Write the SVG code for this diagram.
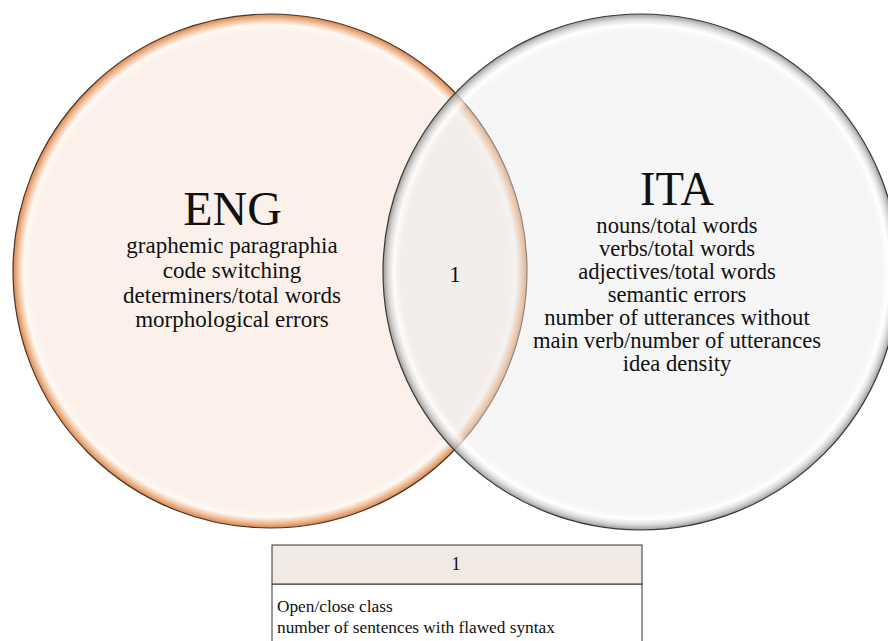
<svg xmlns="http://www.w3.org/2000/svg" width="888" height="641" viewBox="0 0 888 641">
<style>
text{font-family:"Liberation Serif","Times New Roman",serif;fill:#111;text-anchor:middle}
.t{font-size:23px}
.ti{font-size:22.6px}
.h{font-size:48px}
.s{font-size:17.3px;text-anchor:start}
</style>
<defs>
<radialGradient id="gl" cx="0.5" cy="0.5" r="0.5">
<stop offset="0" stop-color="#FBF1EA"/>
<stop offset="0.93" stop-color="#FBF1EA"/>
<stop offset="0.958" stop-color="#FEF8F3"/>
<stop offset="0.978" stop-color="#F2C6A4"/>
<stop offset="1" stop-color="#D9864E"/>
</radialGradient>
<radialGradient id="gr" cx="0.5" cy="0.5" r="0.5">
<stop offset="0" stop-color="#EAEAEA" stop-opacity="0.45"/>
<stop offset="0.93" stop-color="#EAEAEA" stop-opacity="0.45"/>
<stop offset="0.958" stop-color="#FFFFFF" stop-opacity="0.7"/>
<stop offset="0.978" stop-color="#D4D4D4" stop-opacity="0.75"/>
<stop offset="1" stop-color="#909090" stop-opacity="0.9"/>
</radialGradient>
</defs>
<rect width="888" height="641" fill="#FFFFFF"/>
<g id="eng">
<circle cx="270" cy="271" r="257" fill="url(#gl)" stroke="#4A3426" stroke-width="1.2"/>
</g>
<g id="ita">
<circle cx="641" cy="272" r="258" fill="url(#gr)" stroke="#3A3A3A" stroke-width="1.2"/>
</g>
<g id="eng-text">
<text class="h" x="232.5" y="225">ENG</text>
<text class="t" x="232" y="253">graphemic paragraphia</text>
<text class="t" x="232" y="278">code switching</text>
<text class="t" x="232" y="303">determiners/total words</text>
<text class="t" x="232" y="327">morphological errors</text>
</g>
<g id="ita-text">
<text class="h" x="677" y="205" textLength="74" lengthAdjust="spacingAndGlyphs">ITA</text>
<text class="ti" x="677" y="233">nouns/total words</text>
<text class="ti" x="677" y="256">verbs/total words</text>
<text class="ti" x="677" y="279">adjectives/total words</text>
<text class="ti" x="677" y="302">semantic errors</text>
<text class="ti" x="677" y="325">number of utterances without</text>
<text class="ti" x="677" y="348">main verb/number of utterances</text>
<text class="ti" x="677" y="371">idea density</text>
</g>
<g id="overlap">
<text class="t" x="455" y="282">1</text>
</g>
<g id="legend">
<rect x="272" y="584" width="370" height="70" fill="#FFFFFF" stroke="#333" stroke-width="1"/>
<rect x="272" y="545" width="370" height="39" fill="#F2E9E2" stroke="#333" stroke-width="1"/>
<text x="456" y="570" style="font-size:18px">1</text>
<text class="s" x="277" y="612">Open/close class</text>
<text class="s" x="277" y="633">number of sentences with flawed syntax</text>
</g>
<g id="connectors"/>
</svg>
